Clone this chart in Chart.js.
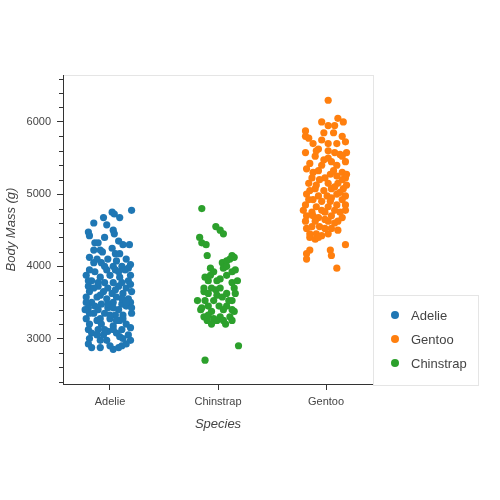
<!DOCTYPE html>
<html lang="en">
<head>
    <meta charset="UTF-8">
    <title>Body mass by species</title>
    <style>
        body { margin: 0; background: #fff; }
        .chartBox { width: 500px; height: 500px; }
    </style>
</head>
<body>
<div class="chartBox">
    <canvas id="myChart" width="500" height="500"></canvas>
</div>
<script src="https://cdn.jsdelivr.net/npm/chart.js"></script>

<script>
    // categories on the x axis, in axis order
    const categories = ['Adelie', 'Chinstrap', 'Gentoo'];
    // legend / draw order
    const legendOrder = ['Adelie', 'Gentoo', 'Chinstrap'];
    const colors = { Adelie: '#1f77b4', Gentoo: '#ff7f0e', Chinstrap: '#2ca02c' };

    // body mass (g), with the horizontal jitter of each point
    const adelieMass = [4775, 4750, 4725, 4675, 4675, 4600, 4575, 4475, 4425, 4500, 4450, 4400,
        4325, 4325, 4300, 4300, 4350, 4225, 4225, 4200, 4250, 4175, 4175, 4125, 4100, 4100,
        4075, 4100, 4050, 4000, 4000, 4025, 3950, 3925, 3950, 3950, 3950, 3875, 3850, 3875,
        3850, 3875, 3800, 3775, 3775, 3800, 3725, 3725, 3700, 3725, 3700, 3650, 3650, 3625,
        3625, 3650, 3575, 3575, 3550, 3575, 3550, 3500, 3475, 3500, 3475, 3500, 3425, 3400,
        3425, 3400, 3450, 3350, 3350, 3325, 3325, 3350, 3275, 3250, 3275, 3250, 3200, 3200,
        3175, 3200, 3125, 3125, 3100, 3125, 3150, 3075, 3050, 3075, 3050, 3000, 2975, 3000,
        2975, 2925, 2875, 2875, 2900, 2850, 2900, 2925,
        4050, 4000, 3925, 3975, 3800, 3775, 3775, 3700, 3675, 3750, 3600, 3550, 3500, 3475,
        3500, 3450, 3425, 3425, 3350, 3325, 3275, 3275, 3400, 3250, 3125, 3125, 3050, 3025,
        2975, 2875];
    const adelieJitter = [0.20, 0.02, 0.04, -0.06, 0.09, -0.15, -0.03, -0.20, -0.19, 0.03, 0.04, -0.05,
        -0.14, -0.11, 0.12, 0.18, 0.08, -0.15, -0.09, -0.07, 0.02, 0.05, 0.09, -0.19, -0.12, -0.02,
        0.06, 0.15, -0.08, 0.03, 0.11, 0.19, -0.19, -0.14, -0.03, 0.05, 0.14, -0.22, -0.09, 0.00,
        0.09, 0.19, -0.17, -0.05, 0.03, 0.17, -0.20, -0.11, -0.02, 0.08, 0.15, -0.19, -0.06, 0.02,
        0.12, 0.20, -0.22, -0.12, -0.03, 0.06, 0.17, -0.17, -0.08, 0.03, 0.11, 0.19, -0.20, -0.11,
        -0.02, 0.08, 0.15, -0.15, -0.05, 0.05, 0.12, 0.20, -0.22, -0.12, 0.00, 0.09, -0.19, -0.08,
        0.03, 0.15, -0.20, -0.11, -0.02, 0.11, 0.19, -0.17, -0.06, 0.06, 0.17, -0.19, -0.09, 0.12,
        0.19, -0.20, -0.17, -0.09, 0.00, 0.03, 0.11, 0.15,
        -0.15, -0.05, 0.08, 0.17, -0.20, -0.11, 0.11, -0.15, 0.05, 0.19, -0.09, 0.11, -0.22, -0.02,
        0.15, -0.14, 0.03, 0.20, -0.19, 0.00, -0.09, 0.12, -0.23, 0.06, -0.05, 0.03, -0.12, 0.09,
        -0.03, 0.08];

    const chinstrapMass = [4800, 4550, 4500, 4450, 4400, 4325, 4300, 4150, 4150, 4125, 4050, 4075,
        4100, 3975, 3925, 3975, 4000, 3950, 3850, 3800, 3800, 3825, 3775, 3800, 3700, 3700,
        3675, 3700, 3650, 3625, 3600, 3575, 3625, 3525, 3525, 3525, 3525, 3425, 3450, 3450,
        3400, 3400, 3375, 3400, 3375, 3300, 3275, 3300, 3300, 3250, 3250, 3250, 3250, 3200,
        3200, 2900, 2700, 3875, 3875, 3700, 3625, 3450, 3325, 3525, 3925];
    const chinstrapJitter = [-0.15, -0.02, 0.02, 0.05, -0.17, -0.15, -0.11, -0.10, 0.13, 0.15, 0.04, 0.08,
        0.11, -0.07, -0.04, 0.05, 0.08, 0.16, -0.12, -0.09, -0.01, 0.02, 0.13, 0.18, -0.13, -0.06,
        -0.02, 0.15, -0.13, -0.09, -0.01, 0.04, 0.16, -0.19, -0.12, -0.04, 0.13, -0.15, -0.09, 0.08,
        0.13, -0.16, -0.06, 0.05, 0.15, -0.13, -0.04, 0.02, 0.11, -0.10, -0.01, 0.05, 0.13, -0.06,
        0.07, 0.19, -0.12, -0.07, 0.08, 0.02, 0.08, 0.01, -0.09, 0.10, 0.13];

    const gentooMass = [6300, 6050, 6000, 6000, 5950, 5950, 5875, 5800, 5850, 5800, 5700, 5750,
        5700, 5700, 5725, 5575, 5625, 5600, 5550, 5575, 5525, 5500, 5525, 5425, 5400, 5450,
        5450, 5350, 5325, 5325, 5300, 5275, 5225, 5225, 5250, 5225, 5150, 5200, 5150, 5150,
        5125, 5075, 5050, 5075, 5075, 5000, 4975, 4975, 5000, 4975, 4925, 4900, 4900, 4925,
        4850, 4825, 4825, 4850, 4775, 4750, 4750, 4775, 4775, 4700, 4675, 4700, 4675, 4625,
        4625, 4625, 4625, 4550, 4550, 4525, 4450, 4450, 4425, 4450, 4400, 4375, 4300, 4225,
        4175, 4100, 4225, 4150, 3975,
        5775, 5850, 5600, 5575, 5475, 5400, 5300, 5275, 5200, 5125, 5100, 5050, 5025, 4950,
        4925, 4850, 4775, 4750, 4700, 4650, 4600, 4525, 4525, 4500, 4400];
    const gentooJitter = [0.02, 0.11, 0.16, -0.04, 0.02, 0.08, -0.19, -0.19, -0.02, 0.15, -0.12, -0.04,
        0.02, 0.10, 0.18, -0.19, -0.07, 0.02, 0.13, 0.19, -0.10, 0.02, 0.15, -0.15, -0.04, 0.05,
        0.18, -0.18, -0.07, 0.07, 0.15, 0.19, -0.13, -0.01, 0.10, 0.18, -0.16, -0.06, 0.02, 0.11,
        0.19, -0.10, -0.02, 0.05, 0.16, -0.18, -0.07, 0.01, 0.10, 0.18, -0.12, -0.04, 0.04, 0.15,
        -0.19, -0.09, 0.02, 0.18, -0.21, -0.13, -0.01, 0.08, 0.18, -0.18, -0.07, 0.05, 0.15, -0.19,
        -0.10, 0.02, 0.11, -0.13, -0.06, 0.05, -0.15, -0.09, -0.04, 0.02, -0.15, -0.10, 0.18, -0.15,
        -0.18, -0.18, 0.04, 0.05, 0.10,
        -0.16, 0.07, -0.09, 0.08, -0.02, 0.10, -0.12, 0.04, 0.15, -0.09, 0.08, -0.15, 0.13, 0.05,
        -0.16, 0.10, -0.04, 0.13, -0.12, -0.01, 0.08, -0.18, -0.01, 0.11, -0.07];

    // y ticks: major every 1000 (labelled), minor every 200
    const yMin = 2370, yMax = 6650;
    const yTicks = [2400, 2600, 2800, 3000, 3200, 3400, 3600, 3800, 4000, 4200, 4400, 4600,
        4800, 5000, 5200, 5400, 5600, 5800, 6000, 6200, 6400, 6600];

    const series = { Adelie: [adelieMass, adelieJitter], Gentoo: [gentooMass, gentooJitter],
        Chinstrap: [chinstrapMass, chinstrapJitter] };

    const FONT = "'Liberation Sans', Arial, Helvetica, sans-serif";
    const TEXT = '#444444';
    const AXIS = '#333333';

    // Setup block
    const data = {
        datasets: legendOrder.map(name => ({
            label: name,
            data: series[name][0].map((m, i) => ({ x: categories.indexOf(name) + series[name][1][i], y: m })),
            backgroundColor: colors[name],
            borderWidth: 0,
            pointRadius: 3.6,
            pointHoverRadius: 3.6
        }))
    };

    // light frame round the plot area, minor ticks, and the boxed legend
    const framePlugin = {
        id: 'frame',
        beforeDraw(chart) {
            const { ctx, chartArea: a } = chart;
            ctx.save();
            ctx.strokeStyle = '#e5e5e5';
            ctx.lineWidth = 1;
            ctx.strokeRect(a.left + 0.5, a.top + 0.5, a.right - a.left, a.bottom - a.top);
            ctx.restore();
        },
        afterDraw(chart) {
            const { ctx, chartArea: a } = chart;
            const ys = chart.scales.y;
            ctx.save();
            ctx.strokeStyle = AXIS;
            ctx.lineWidth = 1;
            yTicks.forEach(v => {
                if (v % 1000 === 0) return;
                const py = Math.round(ys.getPixelForValue(v)) + 0.5;
                ctx.beginPath();
                ctx.moveTo(a.left - 4, py);
                ctx.lineTo(a.left, py);
                ctx.stroke();
            });

            // legend box
            const bx = a.right, by = a.bottom - 89, bw = 105, bh = 90;
            ctx.fillStyle = '#ffffff';
            ctx.fillRect(bx, by, bw, bh);
            ctx.strokeStyle = '#e5e5e5';
            ctx.strokeRect(bx + 0.5, by + 0.5, bw, bh);
            ctx.font = '13px ' + FONT;
            ctx.textBaseline = 'middle';
            legendOrder.forEach((name, i) => {
                const cy = by + 20 + i * 24;
                ctx.fillStyle = colors[name];
                ctx.beginPath();
                ctx.arc(bx + 22, cy, 4, 0, Math.PI * 2);
                ctx.fill();
                ctx.fillStyle = TEXT;
                ctx.fillText(name, bx + 38, cy + 1);
            });
            ctx.restore();
        }
    };

    // Config block
    const config = {
        type: 'scatter',
        data: data,
        options: {
            responsive: false,
            animation: false,
            layout: { padding: { left: 0, top: 75, right: 127, bottom: 64 } },
            plugins: {
                legend: { display: false },
                tooltip: { enabled: false }
            },
            scales: {
                x: {
                    type: 'linear',
                    min: -0.435,
                    max: 2.435,
                    afterBuildTicks: s => { s.ticks = categories.map((c, i) => ({ value: i })); },
                    afterFit: s => { s.height = 52; },
                    ticks: {
                        callback: v => categories[v],
                        color: TEXT,
                        font: { family: FONT, size: 11 },
                        padding: 5,
                        maxRotation: 0
                    },
                    grid: { drawOnChartArea: false, tickLength: 6, tickColor: AXIS },
                    border: { color: AXIS, width: 1 },
                    title: {
                        display: true,
                        text: 'Species',
                        color: TEXT,
                        font: { family: FONT, size: 13, style: 'italic' },
                        padding: { top: 0, bottom: 4 }
                    }
                },
                y: {
                    min: yMin,
                    max: yMax,
                    afterBuildTicks: s => { s.ticks = yTicks.map(v => ({ value: v })); },
                    afterFit: s => { s.width = 63; },
                    ticks: {
                        autoSkip: false,
                        callback: v => (v % 1000 === 0 ? String(v) : ''),
                        color: TEXT,
                        font: { family: FONT, size: 11 },
                        padding: 6
                    },
                    grid: {
                        drawOnChartArea: false,
                        tickLength: 6,
                        tickColor: c => (c.tick && c.tick.value % 1000 === 0 ? AXIS : 'rgba(0,0,0,0)')
                    },
                    border: { color: AXIS, width: 1 },
                    title: {
                        display: true,
                        text: 'Body Mass (g)',
                        color: TEXT,
                        font: { family: FONT, size: 13, style: 'italic' },
                        padding: { top: 4, bottom: 0 }
                    }
                }
            }
        },
        plugins: [framePlugin]
    };

    // Init block
    const myChart = new Chart(
        document.getElementById('myChart'),
        config
    );
</script>
</body>
</html>
